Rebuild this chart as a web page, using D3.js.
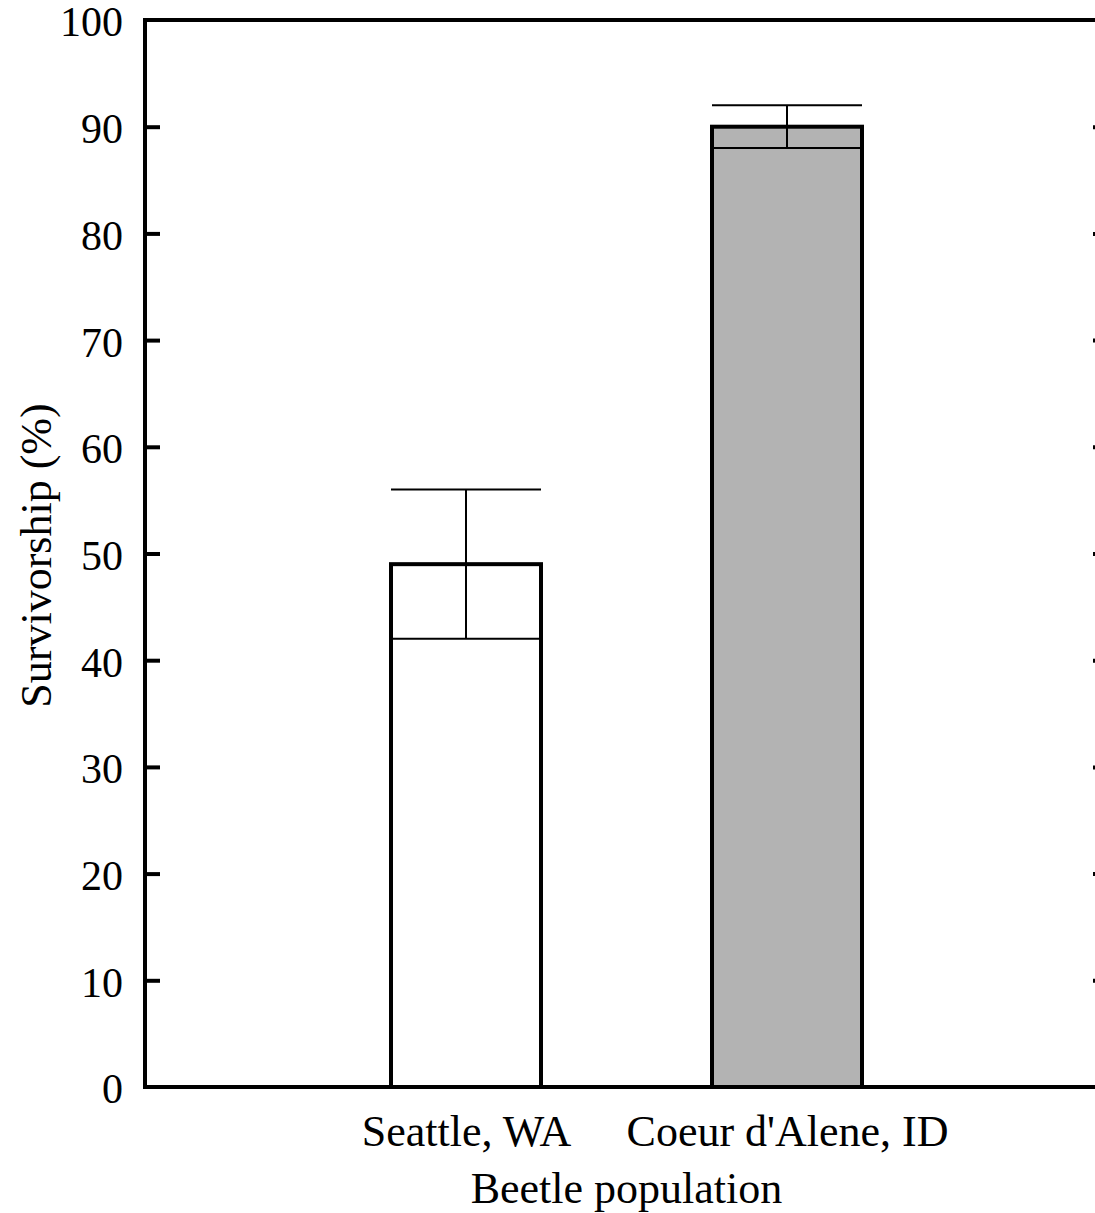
<!DOCTYPE html>
<html lang="en">
<head>
  <meta charset="UTF-8">
  <title>Beetle survivorship</title>
  <script src="https://d3js.org/d3.v7.min.js"></script>
  <style>
    body { margin: 0; background: #fff; }
    svg text { font-family: "Liberation Serif", "DejaVu Serif", serif; fill: #000; }
  </style>
</head>
<body>
  <svg width="1095" height="1213"></svg>
  <script>
    const populations = ["Seattle, WA", "Coeur d'Alene, ID"];
    const survivorship = [49, 90];
    const errors = [7, 2];
    const fills = ["#ffffff", "#b3b3b3"];
    const yTicks = [0, 10, 20, 30, 40, 50, 60, 70, 80, 90, 100];

    const svg = d3.select("svg");
    const plotL = 145, plotR = 1108, plotT = 20, plotB = 1087;
    const serif = "Liberation Serif, DejaVu Serif, serif";

    const x = d3.scalePoint().domain(populations).range([plotL, plotR]).padding(1);
    const y = d3.scaleLinear().domain([0, 100]).range([plotB, plotT]);
    const barW = 150;

    // bars
    svg.append("g")
      .selectAll("rect")
      .data(populations)
      .enter()
      .append("rect")
      .attr("x", d => x(d) - barW / 2)
      .attr("y", (d, i) => y(survivorship[i]))
      .attr("width", barW)
      .attr("height", (d, i) => y(0) - y(survivorship[i]))
      .attr("fill", (d, i) => fills[i])
      .attr("stroke", "#000")
      .attr("stroke-width", 4);

    // error bars
    const err = svg.append("g")
      .attr("stroke", "#000")
      .attr("stroke-width", 2);
    populations.forEach((p, i) => {
      const cx = x(p);
      const hi = y(survivorship[i] + errors[i]);
      const lo = y(survivorship[i] - errors[i]);
      err.append("line").attr("x1", cx).attr("x2", cx).attr("y1", hi).attr("y2", lo);
      err.append("line").attr("x1", cx - barW / 2).attr("x2", cx + barW / 2).attr("y1", hi).attr("y2", hi);
      err.append("line").attr("x1", cx - barW / 2).attr("x2", cx + barW / 2).attr("y1", lo).attr("y2", lo);
    });

    // frame
    svg.append("rect")
      .attr("x", plotL).attr("y", plotT)
      .attr("width", plotR - plotL).attr("height", plotB - plotT)
      .attr("fill", "none")
      .attr("stroke", "#000")
      .attr("stroke-width", 4);

    // left axis (ticks inward)
    const yAxis = d3.axisLeft(y).tickValues(yTicks).tickSizeInner(-15).tickSizeOuter(0).tickPadding(22);
    const gy = svg.append("g").attr("transform", `translate(${plotL},0)`).call(yAxis);
    gy.attr("font-family", serif).attr("font-size", 42);
    gy.select(".domain").remove();
    gy.selectAll(".tick line").attr("stroke", "#000").attr("stroke-width", 4)
      .filter(d => d === 0 || d === 100).remove();
    gy.selectAll(".tick text").attr("dy", "0.38em");

    // right ticks
    const yRight = d3.axisRight(y).tickValues(yTicks.filter(d => d > 0 && d < 100)).tickSizeInner(-15).tickSizeOuter(0).tickFormat("");
    const gr = svg.append("g").attr("transform", `translate(${plotR},0)`).call(yRight);
    gr.select(".domain").remove();
    gr.selectAll(".tick line").attr("stroke", "#000").attr("stroke-width", 4);

    // x labels
    const xAxis = d3.axisBottom(x).tickSize(0).tickPadding(28);
    const gx = svg.append("g").attr("transform", `translate(0,${plotB})`).call(xAxis);
    gx.attr("font-family", serif).attr("font-size", 44);
    gx.select(".domain").remove();

    // axis titles
    svg.append("text")
      .attr("x", (plotL + plotR) / 2)
      .attr("y", 1203)
      .attr("text-anchor", "middle")
      .attr("font-size", 44)
      .text("Beetle population");

    svg.append("text")
      .attr("transform", `translate(51,${(plotT + plotB) / 2 + 2}) rotate(-90)`)
      .attr("text-anchor", "middle")
      .attr("font-size", 44)
      .text("Survivorship (%)");
  </script>
</body>
</html>
